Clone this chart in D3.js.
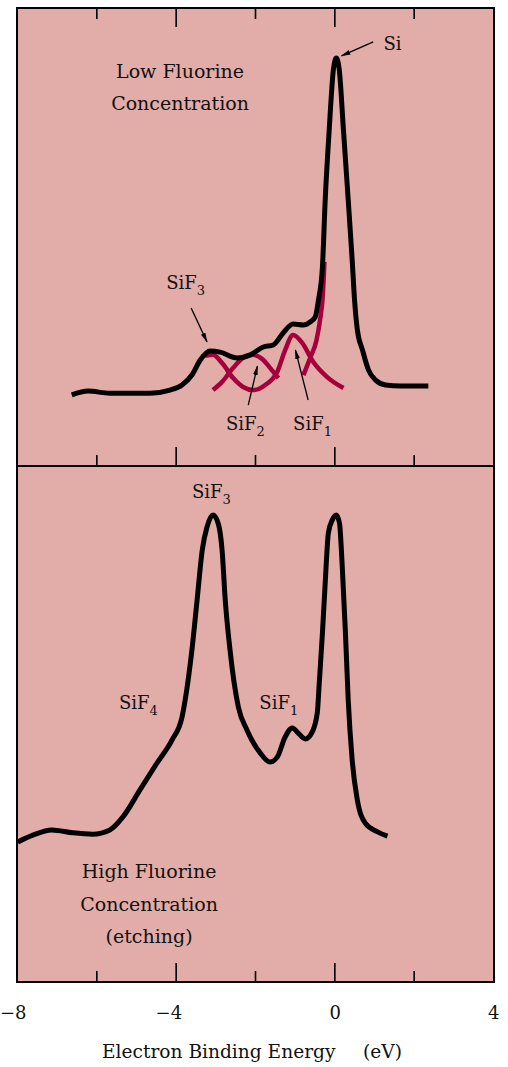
<!DOCTYPE html>
<html>
<head>
	<meta charset="utf-8">
	<script src="https://cdn.jsdelivr.net/npm/d3@7"></script>
	<style type="text/css">
		body { margin:0; background:#fff; }
		text { font-family:"DejaVu Serif", serif; fill:#111; }
	</style>
</head>
<body>
	<script>
	// binding energy (eV) and intensity (arb. units)
	var lowE = [-6.62,-6.21,-5.66,-4.65,-4.14,-3.84,-3.59,-3.38,-3.13,-2.88,-2.45,-2.12,-1.79,-1.54,-1.29,-1.04,-0.78,-0.61,-0.48,-0.40,-0.30,-0.23,-0.13,-0.02,0.05,0.12,0.23,0.35,0.45,0.51,0.58,0.71,0.86,1.04,1.29,1.67,2.37];
	var lowI = [1.5,2.6,2.0,2.0,2.9,4.4,7.3,11.7,14.3,14.0,12.3,13.2,15.5,16.1,19.6,22.2,21.9,22.8,24.3,29.2,38.9,58.5,78.9,97.0,100,97.0,78.9,58.5,40.9,29.2,20.5,14.6,8.8,5.8,4.4,4.1,4.1];

	// fitted components (red)
	var fit31E = [-3.26,-3.06,-2.83,-2.55,-2.30,-2.05,-1.74,-1.44,-1.24,-1.04,-0.81,-0.53,-0.18,0.23];
	var fit31I = [12.9,13.2,10.8,6.4,3.8,2.9,4.4,8.2,14.6,19.0,16.7,11.1,6.7,3.5];
	var fit2E = [-3.06,-2.83,-2.55,-2.30,-2.05,-1.79,-1.62,-1.41];
	var fit2I = [2.9,5.3,9.4,12.3,13.2,11.7,9.4,6.4];
	var fitSiE = [-0.78,-0.61,-0.45,-0.36,-0.30,-0.27,-0.25];
	var fitSiI = [7.3,12.3,17.5,23.4,29.2,35.1,40.4];

	var highE = [-7.98,-7.60,-7.12,-6.59,-6.09,-5.66,-5.33,-4.90,-4.47,-4.09,-3.84,-3.76,-3.59,-3.46,-3.33,-3.21,-3.06,-2.93,-2.83,-2.75,-2.63,-2.42,-2.20,-1.87,-1.62,-1.44,-1.24,-1.06,-0.91,-0.73,-0.56,-0.43,-0.38,-0.30,-0.23,-0.15,-0.05,0.05,0.13,0.20,0.28,0.35,0.45,0.58,0.78,1.09,1.34];
	var highI = [-0.6,1.5,3.1,2.2,1.8,3.1,7.1,15.4,23.7,30.8,37.8,43.1,58.5,73.8,89.2,96.3,100,97.5,89.2,73.8,58.5,40.9,33.8,26.8,24.0,25.5,31.7,34.5,32.9,31.1,33.2,39.1,48.3,63.7,79.1,94.5,98.5,100,97.5,84.0,63.7,43.1,24.6,12.3,5.2,2.5,1.2];

	var majorTicks = [-4, 0];
	var minorTicks = [-6, -2, 2];
	var tickLabels = [-8, -4, 0, 4];

	// labels: text, subscript, eV, intensity, anchor
	var lowLabels = [
		["Low Fluorine", "", -3.89, 94.2, "middle"],
		["Concentration", "", -3.89, 84.8, "middle"],
		["Si", "", 1.24, 102.3, "start"],
		["SiF", "3", -4.24, 32.5, "start"],
		["SiF", "2", -2.73, -8.8, "start"],
		["SiF", "1", -1.04, -8.8, "start"]
	];
	// arrows: from eV, from I, to eV, to I
	var lowArrows = [
		[0.98, 104.7, 0.18, 100.6],
		[-3.61, 26.9, -3.21, 17.0],
		[-2.17, -1.5, -1.94, 9.9],
		[-0.66, 0.0, -0.98, 14.6]
	];
	var highLabels = [
		["SiF", "3", -3.59, 105.2, "start"],
		["SiF", "4", -5.43, 40.3, "start"],
		["SiF", "1", -1.89, 40.3, "start"],
		["High Fluorine", "", -4.67, -11.7, "middle"],
		["Concentration", "", -4.67, -21.8, "middle"],
		["(etching)", "", -4.67, -31.7, "middle"]
	];

	var W = 508, H = 1067;
	var pLeft = 17, pRight = 494, pTop = 8, pMid = 466, pBottom = 982;
	var bg = "#e2aca8", red = "#a5003b";

	var svg = d3.select("body").append("svg")
		.attr("width", W)
		.attr("height", H);

	var x = d3.scaleLinear().domain([-8, 4]).range([17, 493]);
	var yLow = d3.scaleLinear().domain([0, 100]).range([400, 58]);
	var yHigh = d3.scaleLinear().domain([0, 100]).range([840, 515]);

	svg.append("rect")
		.attr("x", pLeft).attr("y", pTop)
		.attr("width", pRight - pLeft).attr("height", pBottom - pTop)
		.style("fill", bg);

	svg.append("defs").append("marker")
		.attr("id", "arr")
		.attr("markerUnits", "userSpaceOnUse")
		.attr("markerWidth", 10).attr("markerHeight", 6)
		.attr("refX", 9).attr("refY", 3)
		.attr("orient", "auto")
		.append("path")
		.attr("d", "M0,0.6 L10,3 L0,5.4 Z")
		.style("fill", "#000");

	function curve(E, I, y) {
		return d3.line()
			.x(function(d){ return x(d[0]); })
			.y(function(d){ return y(d[1]); })
			.curve(d3.curveMonotoneX)(d3.zip(E, I));
	}

	function drawLine(E, I, y, color, w) {
		svg.append("path")
			.attr("d", curve(E, I, y))
			.style("fill", "none")
			.style("stroke", color)
			.style("stroke-width", w)
			.style("stroke-linejoin", "round");
	}

	// upper panel
	drawLine(fit31E, fit31I, yLow, red, 4.5);
	drawLine(fit2E, fit2I, yLow, red, 4.5);
	drawLine(fitSiE, fitSiI, yLow, red, 4.5);
	drawLine(lowE, lowI, yLow, "#000", 5);

	// lower panel
	drawLine(highE, highI, yHigh, "#000", 5);

	function drawLabels(list, y) {
		list.forEach(function(d) {
			var t = svg.append("text")
				.attr("x", x(d[2]))
				.attr("y", y(d[3]))
				.attr("text-anchor", d[4])
				.style("font-size", d[1] || d[0] == "Si" ? "18px" : "19px")
				.text(d[0]);
			if (d[1]) {
				t.append("tspan")
					.attr("dy", 6)
					.style("font-size", "13px")
					.text(d[1]);
			}
		});
	}
	drawLabels(lowLabels, yLow);
	drawLabels(highLabels, yHigh);

	lowArrows.forEach(function(a) {
		svg.append("line")
			.attr("x1", x(a[0])).attr("y1", yLow(a[1]))
			.attr("x2", x(a[2])).attr("y2", yLow(a[3]))
			.style("stroke", "#000")
			.style("stroke-width", 1.3)
			.attr("marker-end", "url(#arr)");
	});

	// inward ticks
	function tickRow(y0, vals, size, isTop) {
		var ax = (isTop ? d3.axisTop(x) : d3.axisBottom(x))
			.tickValues(vals).tickSize(-size).tickFormat("");
		var g = svg.append("g")
			.attr("transform", "translate(0," + y0 + ")")
			.call(ax);
		g.select(".domain").remove();
		g.selectAll("line").style("stroke", "#000").style("stroke-width", 1.6);
	}
	tickRow(pTop, majorTicks, 19, true);
	tickRow(pTop, minorTicks, 11, true);
	tickRow(pMid, majorTicks, 19, false);
	tickRow(pMid, minorTicks, 11, false);
	tickRow(pBottom, majorTicks, 19, false);
	tickRow(pBottom, minorTicks, 11, false);

	// frame
	svg.append("rect")
		.attr("x", pLeft).attr("y", pTop)
		.attr("width", pRight - pLeft).attr("height", pBottom - pTop)
		.style("fill", "none")
		.style("stroke", "#000")
		.style("stroke-width", 2);
	svg.append("line")
		.attr("x1", pLeft).attr("x2", pRight)
		.attr("y1", pMid).attr("y2", pMid)
		.style("stroke", "#000")
		.style("stroke-width", 2);

	// tick labels, digit centred on tick
	var lab = svg.append("g")
		.attr("transform", "translate(0," + pBottom + ")")
		.call(d3.axisBottom(x).tickValues(tickLabels).tickSize(0).tickPadding(24)
			.tickFormat(d3.format("d")));
	lab.select(".domain").remove();
	lab.selectAll("text")
		.attr("text-anchor", "end")
		.attr("dx", function(d){ return d == -8 ? 9 : 6; })
		.style("font-family", "DejaVu Serif, serif")
		.style("font-size", "18px")
		.style("fill", "#111");

	svg.append("text")
		.attr("x", 102).attr("y", 1058)
		.style("font-size", "18.6px")
		.text("Electron Binding Energy");
	svg.append("text")
		.attr("x", 363).attr("y", 1058)
		.style("font-size", "18.6px")
		.text("(eV)");
	</script>
</body>
</html>
